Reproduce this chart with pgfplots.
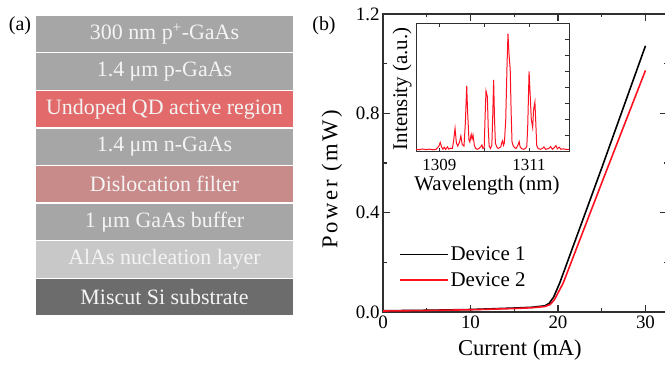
\documentclass[border=0pt]{standalone}
\usepackage{fontspec}
\setmainfont{LiberationSerif}[Extension=.ttf, UprightFont=*-Regular, BoldFont=*-Bold, ItalicFont=*-Italic, BoldItalicFont=*-BoldItalic]
\usepackage{pgfplots}
\pgfplotsset{compat=1.18}
\definecolor{cGray}{HTML}{A6A6A6}
\definecolor{cRed}{HTML}{E26A6A}
\definecolor{cDis}{HTML}{C98A8A}
\definecolor{cLight}{HTML}{C8C8C8}
\definecolor{cDark}{HTML}{6C6C6C}
\definecolor{cTxt}{HTML}{F4F4F4}
\definecolor{cLine}{HTML}{FF1020}
\definecolor{cAx}{HTML}{303030}
\tikzset{lay/.style={text=cTxt, font=\fontsize{22}{24}\selectfont, anchor=center}}
\begin{document}
\begin{tikzpicture}
\useasboundingbox (0,0) rectangle (665bp,365bp);
% ---------- (a) layer stack ----------
\begin{axis}[at={(35bp,49bp)}, anchor=south west, scale only axis,
  width=259bp, height=301bp, xmin=-0.5, xmax=0.5, ymin=0, ymax=8,
  hide axis, ybar stacked, bar width=1, clip=false]
\addplot[fill=cDark, draw=white, line width=1.3pt] coordinates {(0,1)};
\addplot[fill=cLight, draw=white, line width=1.3pt] coordinates {(0,1)};
\addplot[fill=cGray, draw=white, line width=1.3pt] coordinates {(0,1)};
\addplot[fill=cDis, draw=white, line width=1.3pt] coordinates {(0,1)};
\addplot[fill=cGray, draw=white, line width=1.3pt] coordinates {(0,1)};
\addplot[fill=cRed, draw=white, line width=1.3pt] coordinates {(0,1)};
\addplot[fill=cGray, draw=white, line width=1.3pt] coordinates {(0,1)};
\addplot[fill=cGray, draw=white, line width=1.3pt] coordinates {(0,1)};
\coordinate (L8) at (axis cs:0,7.5);
\coordinate (L7) at (axis cs:0,6.5);
\coordinate (L6) at (axis cs:0,5.5);
\coordinate (L5) at (axis cs:0,4.5);
\coordinate (L4) at (axis cs:0,3.5);
\coordinate (L3) at (axis cs:0,2.5);
\coordinate (L2) at (axis cs:0,1.5);
\coordinate (L1) at (axis cs:0,0.5);
\end{axis}
\node[lay] at (L8) {300 nm p\textsuperscript{+}-GaAs};
\node[lay] at (L7) {1.4 μm p-GaAs};
\node[lay] at (L6) {Undoped QD active region};
\node[lay] at (L5) {1.4 μm n-GaAs};
\node[lay] at (L4) {Dislocation filter};
\node[lay] at (L3) {1 μm GaAs buffer};
\node[lay] at (L2) {AlAs nucleation layer};
\node[lay] at (L1) {Miscut Si substrate};
\node[font=\fontsize{20}{22}\selectfont, anchor=center] at (20bp,339bp) {(a)};
\node[font=\fontsize{20}{22}\selectfont, anchor=center] at (324bp,339bp) {(b)};
% ---------- (b) main L-I plot ----------
\begin{axis}[at={(383bp,53bp)}, anchor=south west, scale only axis,
  width=284bp, height=298bp, xmin=0, xmax=32.46, ymin=0, ymax=1.2,
  xtick={0,10,20,30}, ytick={0,0.4,0.8,1.2},
  minor x tick num=1, minor y tick num=1,
  tick align=inside, major tick length=7bp, minor tick length=3.5bp,
  axis line style={cAx, line width=1.1pt}, every tick/.style={cAx, line width=1.1pt},
  /pgf/number format/assume math mode=true,
  ticklabel style={font=\fontsize{19}{20}\selectfont},
  yticklabel style={/pgf/number format/fixed, /pgf/number format/fixed zerofill, /pgf/number format/precision=1},
  xlabel={Current (mA)}, ylabel={Power (mW)},
  xlabel style={font=\fontsize{22.7}{24}\selectfont, at={(axis description cs:0.482,-0.128)}, anchor=center},
  ylabel style={font=\fontsize{22.7}{24}\selectfont\addfontfeatures{LetterSpace=12}, at={(axis description cs:-0.18,0.445)}, anchor=center},
  legend image code/.code={\draw[#1] (0bp,0bp) -- (48bp,0bp);},
  legend style={draw=none, fill=none, at={(axis description cs:0.045,0.15)}, anchor=west,
    font=\fontsize{21}{23}\selectfont, row sep=6bp,
    /tikz/every even column/.append style={column sep=6bp}},
  legend cell align=left]
\addplot[black, line width=1.6pt] coordinates {
(0,0.005) (5,0.007) (10,0.010) (15,0.016) (17,0.019) (18.5,0.025) (19.0,0.035)
(19.5,0.060) (20.2,0.117) (25,0.58) (30,1.072)};
\addlegendentry{Device 1}
\addplot[cLine, line width=1.6pt] coordinates {
(0,0.004) (5,0.006) (10,0.009) (15,0.014) (17,0.017) (18.5,0.022) (19.1,0.030)
(19.6,0.050) (20.6,0.117) (25,0.52) (30,0.973)};
\addlegendentry{Device 2}
\end{axis}
% ---------- inset spectrum ----------
\begin{axis}[at={(416bp,213.3bp)}, anchor=south west, scale only axis,
  width=153bp, height=128.4bp, xmin=1308.48, xmax=1311.89, ymin=0, ymax=8,
  axis background/.style={fill=white},
  xtick={1309,1310,1311}, xticklabels={1309,,1311},
  ytick={1,2,3,4,5,6,7}, yticklabels={}, ytick pos=right,
  tick align=inside, major tick length=4bp,
  axis line style={cAx, line width=0.9pt}, every tick/.style={cAx, line width=0.9pt},
  ticklabel style={font=\fontsize{17}{18}\selectfont},
  xticklabel style={yshift=-4bp},
  xlabel={Wavelength (nm)}, ylabel={Intensity (a.u.)},
  label style={font=\fontsize{21}{23}\selectfont},
  xlabel style={at={(axis description cs:0.464,-0.26)}, anchor=center},
  ylabel style={at={(axis description cs:-0.091,0.49)}, anchor=center}]
\addplot[cLine, line width=1.0pt] coordinates {
(1308.48,0.15) (1308.55,0.12) (1308.62,0.17) (1308.70,0.13) (1308.78,0.16)
(1308.86,0.12) (1308.93,0.15) (1308.99,0.35) (1309.02,0.58) (1309.05,0.30)
(1309.08,0.15) (1309.11,0.28) (1309.14,0.14) (1309.18,0.30) (1309.21,0.16)
(1309.25,0.22) (1309.29,0.20) (1309.32,0.70) (1309.35,1.46) (1309.38,0.55)
(1309.41,0.35) (1309.45,0.60) (1309.48,0.98) (1309.51,0.45) (1309.55,0.35)
(1309.58,1.80) (1309.61,4.10) (1309.63,2.50) (1309.66,0.73) (1309.68,0.60)
(1309.71,1.08) (1309.73,0.80) (1309.75,1.04) (1309.78,0.40) (1309.81,0.20)
(1309.85,0.15) (1309.89,0.22) (1309.92,0.30) (1309.95,0.42) (1309.97,0.20)
(1310.00,0.25) (1310.02,2.20) (1310.04,3.79) (1310.07,3.44) (1310.09,1.50)
(1310.11,0.35) (1310.14,0.20) (1310.17,0.40) (1310.19,2.20) (1310.21,4.48)
(1310.23,2.00) (1310.25,0.52) (1310.28,0.30) (1310.31,0.20) (1310.34,0.25)
(1310.37,0.30) (1310.39,0.55) (1310.41,0.69) (1310.43,0.40) (1310.45,0.55)
(1310.48,2.00) (1310.51,5.50) (1310.53,7.35) (1310.55,6.20) (1310.58,5.10)
(1310.60,2.50) (1310.62,0.60) (1310.65,0.35) (1310.68,0.25) (1310.71,0.20)
(1310.75,0.40) (1310.78,0.63) (1310.80,0.30) (1310.84,0.18) (1310.88,0.15)
(1310.92,0.20) (1310.95,0.35) (1310.97,1.60) (1311.00,5.00) (1311.02,3.80)
(1311.05,2.00) (1311.08,1.50) (1311.10,2.60) (1311.13,3.10) (1311.15,1.80)
(1311.17,0.40) (1311.20,0.20) (1311.25,0.15) (1311.30,0.20) (1311.33,0.30)
(1311.37,0.15) (1311.44,0.20) (1311.48,0.32) (1311.52,0.15) (1311.56,0.25)
(1311.60,0.38) (1311.63,0.18) (1311.67,0.28) (1311.71,0.15) (1311.76,0.18)
(1311.82,0.14) (1311.89,0.15)};
\end{axis}
\end{tikzpicture}
\end{document}
